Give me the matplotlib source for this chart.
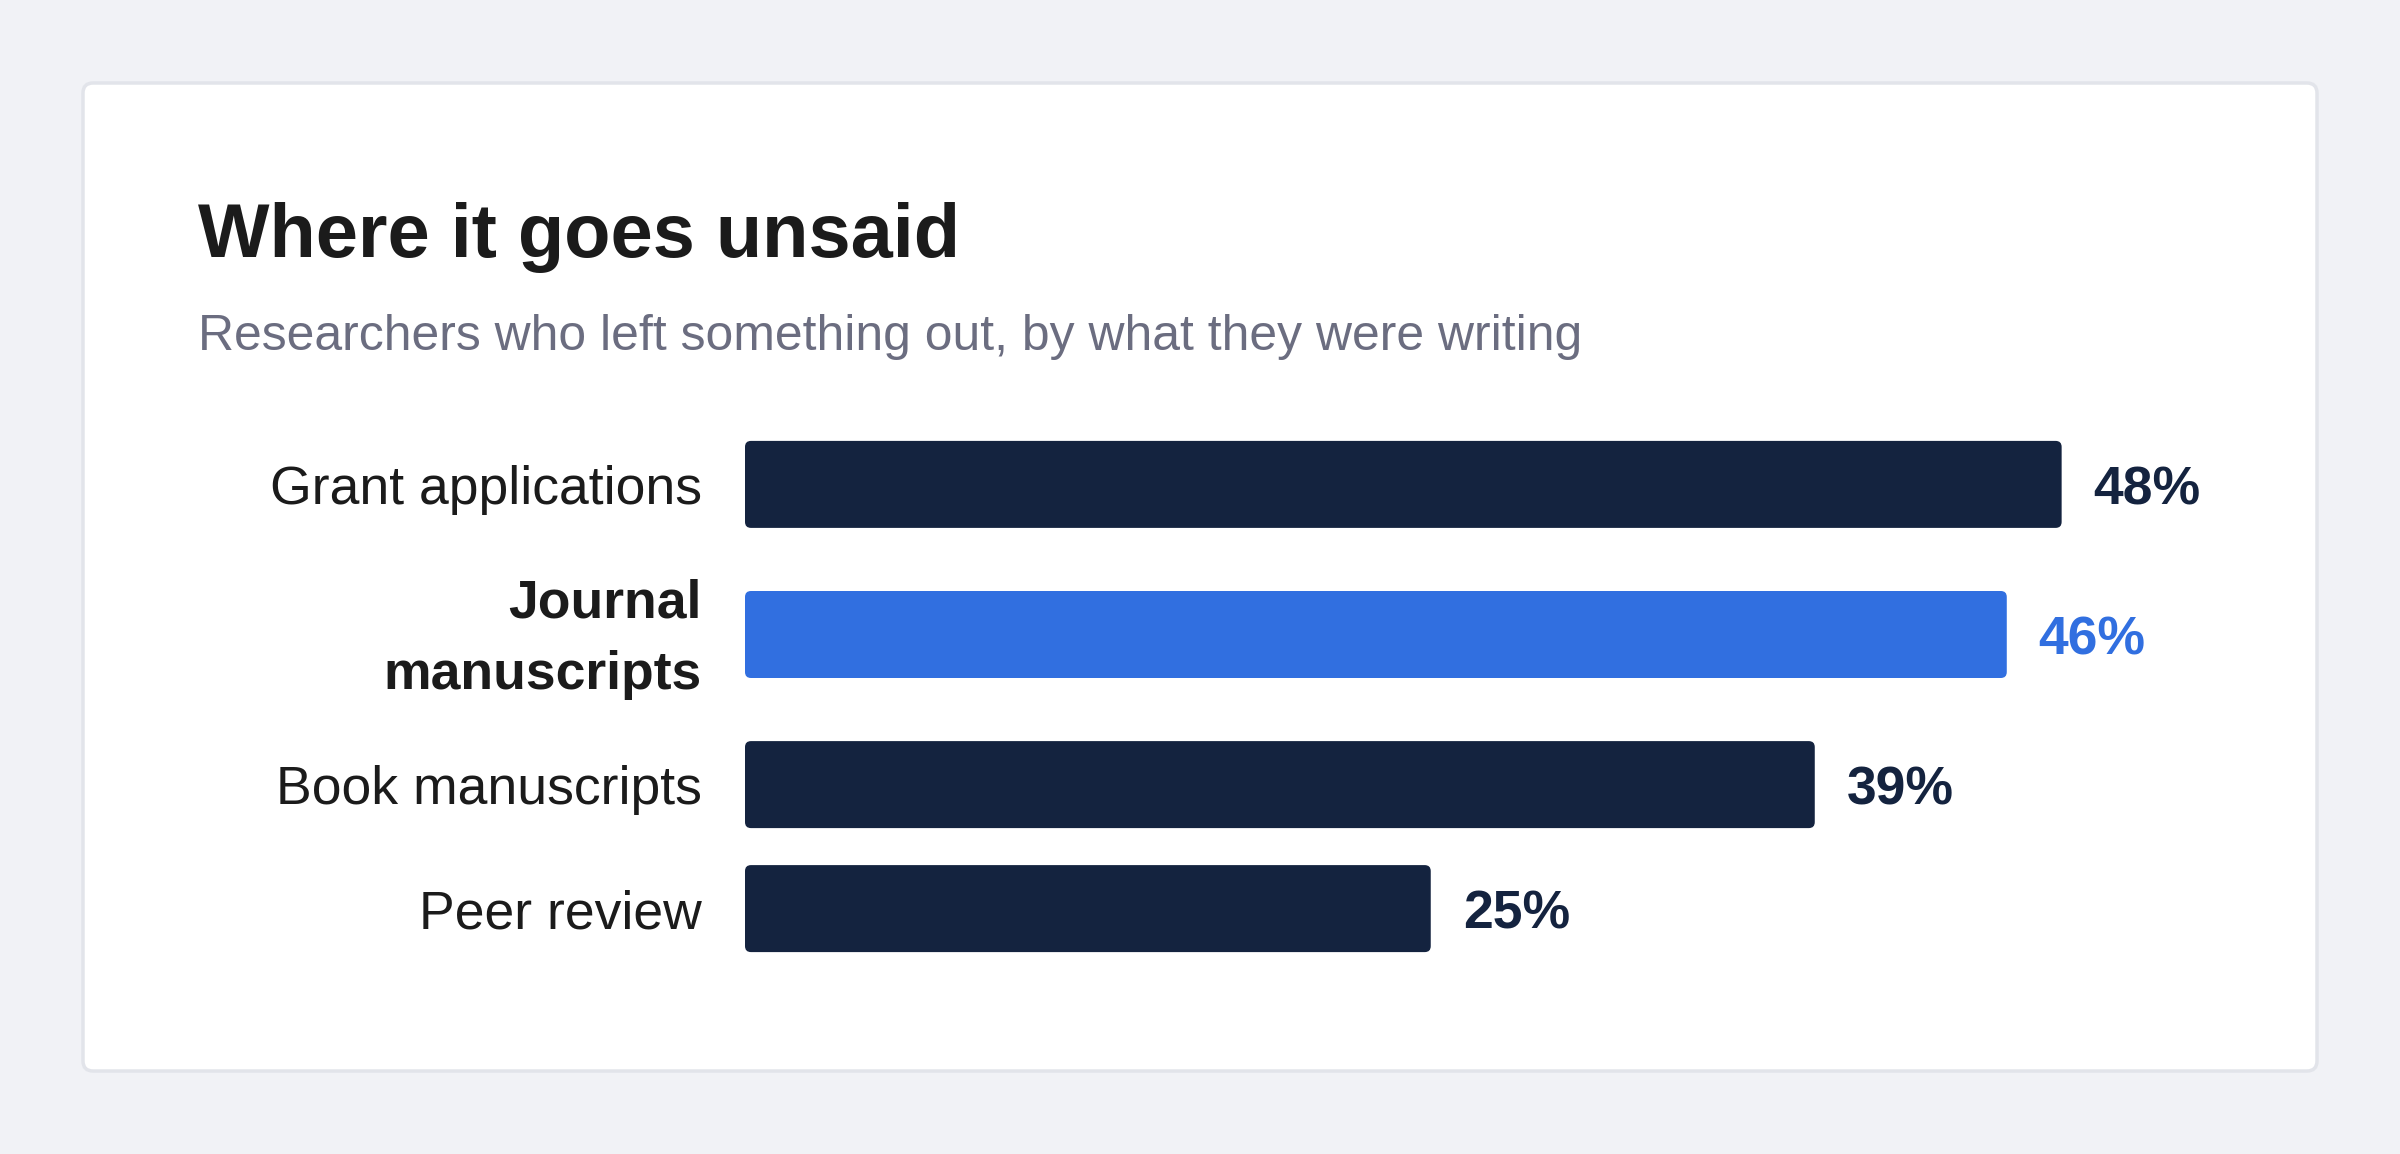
import matplotlib
matplotlib.use('Agg')
import matplotlib.pyplot as plt
from matplotlib.patches import FancyBboxPatch
import numpy as np

plt.rcParams['font.family'] = ['Liberation Sans', 'DejaVu Sans']

# data
categories = ['Grant applications', 'Journal\nmanuscripts', 'Book manuscripts', 'Peer review']
values = [48, 46, 39, 25]
highlight = 'Journal\nmanuscripts'

title = 'Where it goes unsaid'
subtitle = 'Researchers who left something out, by what they were writing'

NAVY = '#14233f'
BLUE = '#316fe0'
INK = '#1b1b1b'
GREY = '#6b6d80'

W, H = 2400, 1154
fig = plt.figure(figsize=(W / 100, H / 100), dpi=100)
fig.patch.set_facecolor('#f1f2f6')

# card behind everything, in pixel units
bg = fig.add_axes([0, 0, 1, 1])
bg.set_xlim(0, W)
bg.set_ylim(H, 0)
bg.axis('off')
bg.add_patch(FancyBboxPatch((83, 83), 2234, 988, boxstyle='round,pad=0,rounding_size=10',
                            fc='white', ec='#e2e4ea', lw=2.5))

fig.text(198 / W, 1 - 257 / H, title, fontsize=54.5, fontweight='bold', color=INK, va='baseline')
fig.text(198 / W, 1 - 350 / H, subtitle, fontsize=35.9, color=GREY, va='baseline')

# rows: height grows with the number of label lines
bar_h, line_h, gap = 87, 69.6, 37
nlines = np.array([c.count('\n') + 1 for c in categories])
row_h = np.maximum(bar_h, nlines * line_h) + gap
centers = np.cumsum(row_h) - row_h / 2
total = row_h.sum()

ax_left, ax_top, ax_w = 745, 422.4, 1371.5
xmax = 50
ax = fig.add_axes([ax_left / W, 1 - (ax_top + total) / H, ax_w / W, total / H])
ax.set_xlim(0, xmax)
ax.set_ylim(total, 0)
ax.axis('off')

xpp = xmax / ax_w  # x units per pixel
rad = 6 * xpp
cap_pt = 19.7 * 0.72
step_pt = line_h * 0.72

for cat, val, yc, n in zip(categories, values, centers, nlines):
    hl = cat == highlight
    col = BLUE if hl else NAVY
    ax.add_patch(FancyBboxPatch((0, yc - bar_h / 2), val, bar_h,
                                boxstyle=f'round,pad=0,rounding_size={rad}',
                                mutation_aspect=1 / xpp, fc=col, ec='none'))
    # baseline alignment anchors the last line
    dy = -(cap_pt + (n - 1) * step_pt / 2)
    ax.annotate(cat, (0, yc), xytext=(-31, dy), textcoords='offset points',
                ha='right', va='baseline', fontsize=38.5, color=INK,
                fontweight='bold' if hl else 'normal', linespacing=1.55,
                annotation_clip=False)
    ax.annotate(f'{val}%', (val, yc), xytext=(23, -cap_pt), textcoords='offset points',
                ha='left', va='baseline', fontsize=38.5, fontweight='bold', color=col,
                annotation_clip=False)

fig.savefig('out.png', dpi=100, facecolor=fig.get_facecolor())
